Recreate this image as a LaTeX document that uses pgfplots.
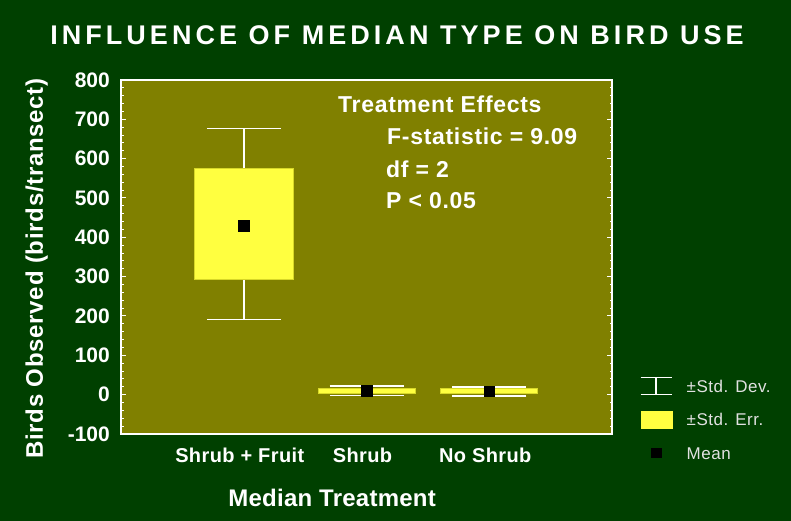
\documentclass[border=0pt]{standalone}
\usepackage{fontspec}
\setmainfont{Liberation Sans}
\usepackage{pgfplots}
\pgfplotsset{compat=1.18}
\definecolor{bggreen}{RGB}{0,64,0}
\definecolor{plotolive}{RGB}{128,128,0}
\definecolor{boxyellow}{RGB}{255,255,64}
\definecolor{boxedge}{RGB}{215,215,40}
\definecolor{legtext}{RGB}{225,225,225}
\begin{document}
\begin{tikzpicture}
\fill[bggreen] (0,0) rectangle (791bp,521bp);
\path[use as bounding box] (0,0) rectangle (791bp,521bp);
\begin{axis}[
  at={(121bp,87bp)}, anchor=south west,
  scale only axis, width=491bp, height=354bp,
  xmin=-1, xmax=3, ymin=-100, ymax=800,
  ytick={-100,0,...,800}, minor y tick num=4,
  xtick={0,1,2}, xticklabels={Shrub + Fruit, Shrub, No Shrub},
  x tick style={draw=none},
  ytick pos=both, yticklabel pos=left,
  tick align=inside,
  major tick length=5bp, minor tick length=2.5bp,
  y tick style={white, line width=1bp},
  axis line style={white, line width=1.5bp},
  axis background/.style={fill=plotolive},
  /pgf/number format/assume math mode=true,
  yticklabel style={white, font=\fontsize{21bp}{24bp}\selectfont\bfseries, anchor=east, inner xsep=0pt, xshift=-11bp},
  xticklabel style={white, font=\fontsize{20bp}{24bp}\selectfont\bfseries\addfontfeatures{LetterSpace=2}, anchor=base, yshift=-28bp, xshift=-4bp},
  ylabel={Birds Observed (birds/transect)},
  ylabel style={white, font=\fontsize{24bp}{28bp}\selectfont\bfseries\addfontfeatures{LetterSpace=3}, at={(axis description cs:-0.159,0.4675)}, anchor=base},
  xlabel={Median Treatment},
  xlabel style={white, font=\fontsize{24bp}{28bp}\selectfont\bfseries\addfontfeatures{LetterSpace=1}, at={(axis description cs:0.43,-0.206)}, anchor=base},
  legend style={at={(axis description cs:1.057,0.1638)}, anchor=north west, draw=none, fill=none,
    inner sep=0pt, outer sep=0pt, row sep=13.5bp, column sep=14bp,
    font=\fontsize{17bp}{20bp}\selectfont\addfontfeatures{LetterSpace=3},
    text=legtext,
    nodes={inner xsep=0pt, inner ysep=0pt, text height=12.5bp, text depth=0bp}},
  legend cell align=left,
]
\addlegendimage{legend image code/.code={
  \path[draw=none, fill=none] (0bp,-10bp) rectangle (31bp,10bp);
  \draw[white, line width=1.5bp] (0bp,-8.5bp) -- (31bp,-8.5bp) (0bp,8.5bp) -- (31bp,8.5bp) (15.5bp,-8.5bp) -- (15.5bp,8.5bp);}}
\addlegendentry{±Std. Dev.}
\addlegendimage{legend image code/.code={
  \path[draw=none, fill=none] (0bp,-10bp) rectangle (31bp,10bp);
  \fill[boxyellow, draw=none] (0bp,-9bp) rectangle (32bp,9bp);}}
\addlegendentry{±Std. Err.}
\addlegendimage{legend image code/.code={
  \path[draw=none, fill=none] (0bp,-10bp) rectangle (31bp,10bp);
  \fill[black, draw=none] (10.5bp,-5.3bp) rectangle (21bp,5.3bp);}}
\addlegendentry{Mean}

% +/- standard deviation whiskers
\addplot[forget plot, draw=none, mark=none,
  error bars/.cd, y dir=both, y explicit,
  error bar style={white, line width=1.5bp},
  error mark options={white, line width=1.5bp, rotate=90, mark size=37bp}]
  coordinates {(0,430) += (0,247) -= (0,239)
               (1,10) += (0,12) -= (0,12)
               (2,9) += (0,11) -= (0,12)};
% +/- standard error boxes
\addplot[forget plot, fill=boxyellow, draw=boxedge, line width=0.8bp]
  coordinates {(-0.405,293) (0.405,293) (0.405,575) (-0.405,575)} -- cycle;
\addplot[forget plot, fill=boxyellow, draw=boxedge, line width=0.8bp]
  coordinates {(0.605,2) (1.395,2) (1.395,17) (0.605,17)} -- cycle;
\addplot[forget plot, fill=boxyellow, draw=boxedge, line width=0.8bp]
  coordinates {(1.605,2) (2.395,2) (2.395,17) (1.605,17)} -- cycle;
% means
\addplot[forget plot, only marks, mark=square*, mark size=5.2bp, black] coordinates {(0,430) (1,10) (2,9)};
\end{axis}
\node[anchor=base, white, font=\fontsize{27bp}{30bp}\selectfont\bfseries\addfontfeatures{LetterSpace=15}] at (397bp,476bp) {INFLUENCE OF MEDIAN TYPE ON BIRD USE};
\begin{scope}[every node/.style={anchor=base west, white, inner sep=0pt, font=\fontsize{23bp}{26bp}\selectfont\bfseries\addfontfeatures{LetterSpace=3}}]
\node at (338bp,408bp) {Treatment Effects};
\node at (387bp,376bp) {F-statistic = 9.09};
\node at (386bp,343.7bp) {df = 2};
\node at (386bp,312.7bp) {P < 0.05};
\end{scope}
\end{tikzpicture}
\end{document}
